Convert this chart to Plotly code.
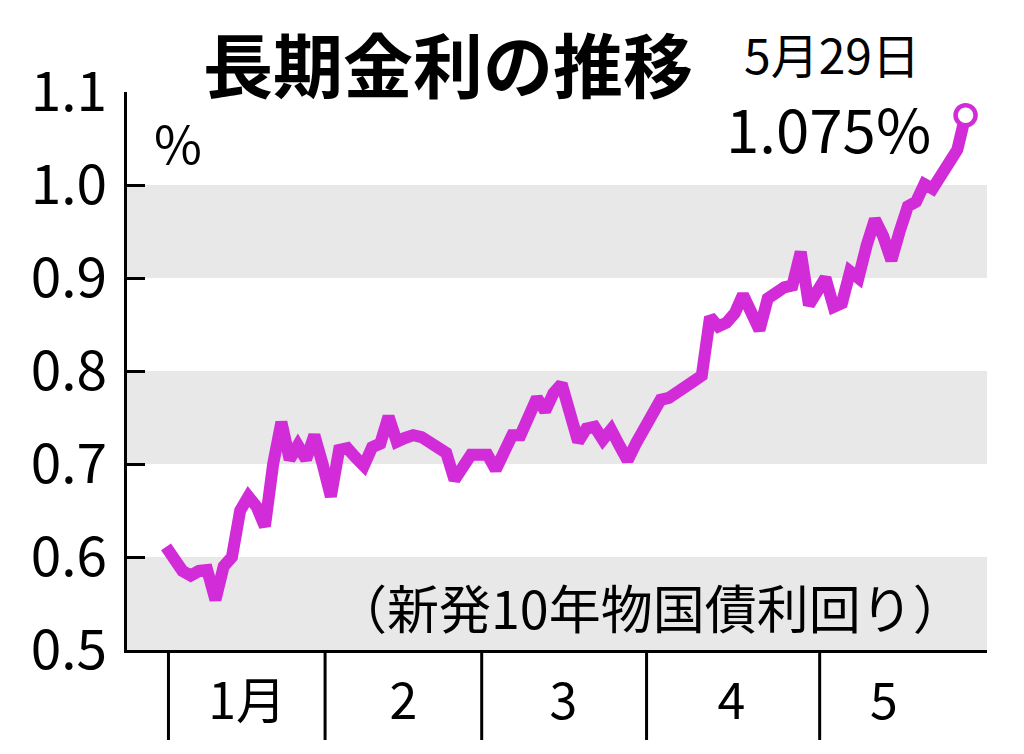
import plotly.graph_objects as go

# ---- data (10-year JGB yield, %, trading days Jan 4 - May 29) ----
jan = [0.611, 0.600, 0.585, 0.580, 0.585, 0.586, 0.554, 0.590, 0.600, 0.650,
       0.665, 0.654, 0.633, 0.700, 0.745, 0.705, 0.720, 0.705, 0.731]
feb = [0.700, 0.665, 0.715, 0.717, 0.707, 0.698, 0.718, 0.722, 0.751, 0.724,
       0.728, 0.731, 0.729, 0.722, 0.718, 0.712, 0.683, 0.697, 0.710]
mar = [0.710, 0.710, 0.694, 0.712, 0.731, 0.731, 0.750, 0.771, 0.757, 0.776,
       0.786, 0.755, 0.724, 0.738, 0.740, 0.726, 0.737, 0.720, 0.704, 0.722]
apr = [0.740, 0.752, 0.769, 0.771, 0.776, 0.782, 0.789, 0.795, 0.858, 0.848,
       0.852, 0.862, 0.882, 0.863, 0.844, 0.878, 0.886, 0.890, 0.892, 0.928, 0.871]
may = [0.885, 0.900, 0.869, 0.873, 0.907, 0.900, 0.935, 0.963, 0.945, 0.919,
       0.950, 0.977, 0.982, 1.001, 0.996, 1.010, 1.025, 1.038, 1.075]

months = [jan, feb, mar, apr, may]
month_labels = ["1月", "2", "3", "4", "5"]
y_ticks = [0.5, 0.6, 0.7, 0.8, 0.9, 1.0, 1.1]
bands = [(0.5, 0.6), (0.7, 0.8), (0.9, 1.0)]

values = [v for m in months for v in m]
x = list(range(len(values)))

month_start = []
acc = 0
for m in months:
    month_start.append(acc)
    acc += len(m)

FONT = "Noto Sans CJK JP"
COLOR = "#D22BD8"

# page offset (browser body margin)
OFF = 8
PL, PR, PT, PB = 127, 987, 92, 650   # target plot area in page pixels

fig = go.Figure()

fig.add_trace(go.Scatter(
    x=x, y=values, mode="lines",
    line=dict(color=COLOR, width=12, shape="linear"),
    hoverinfo="x+y", showlegend=False))

fig.add_trace(go.Scatter(
    x=[x[-1]], y=[values[-1]], mode="markers",
    marker=dict(symbol="circle", size=20, color="white",
                line=dict(color=COLOR, width=4.5)),
    showlegend=False, cliponaxis=False))

shapes = []
for lo, hi in bands:
    shapes.append(dict(type="rect", xref="paper", yref="y", x0=0, x1=1,
                       y0=lo, y1=hi, fillcolor="#E8E8E8", line_width=0,
                       layer="below"))
for s in month_start:
    shapes.append(dict(type="line", xref="x", yref="paper",
                       x0=s + 0.3, x1=s + 0.3, y0=0, y1=-(740 - PB) / (PB - PT),
                       line=dict(color="black", width=3)))
fig.update_layout(shapes=shapes)

label_pos = [9.85, 28.8, 48.2, 68.6, 87.1]

fig.update_xaxes(range=[-4.73, 99.6], showgrid=False, zeroline=False,
                 showline=True, linecolor="black", linewidth=3,
                 tickvals=label_pos, ticktext=month_labels, ticks="",
                 tickfont=dict(family=FONT, size=50, color="black"),
                 ticklabelstandoff=6)
fig.update_yaxes(range=[0.5, 1.1], showgrid=False, zeroline=False,
                 showline=True, linecolor="black", linewidth=3,
                 tickvals=y_ticks, ticktext=[f"{v:.1f}" for v in y_ticks],
                 ticks="inside", ticklen=18, tickwidth=3, tickcolor="black",
                 tickfont=dict(family=FONT, size=55, color="black"),
                 ticklabelstandoff=6)

anns = [
    dict(text="<b>長期金利の推移</b>", x=448, y=62, size=70),
    dict(text="5月29日", x=832, y=53, size=48),
    dict(text="1.075%", x=828, y=126, size=60),
    dict(text="%", x=178, y=142, size=52),
    dict(text="（新発10年物国債利回り）", x=650, y=606, size=52),
]
annotations = []
for a in anns:
    annotations.append(dict(
        text=a["text"], xref="paper", yref="paper",
        x=(a["x"] - PL) / (PR - PL), y=(PB - a["y"]) / (PB - PT),
        xanchor="center", yanchor="middle", showarrow=False,
        font=dict(family=FONT, size=a["size"], color="black")))
fig.update_layout(annotations=annotations)

W, H = 1024 - 2 * OFF, 754 - 2 * OFF
fig.update_layout(
    width=W, height=H,
    margin=dict(l=PL - OFF, r=W + OFF - PR, t=PT - OFF, b=H + OFF - PB),
    paper_bgcolor="white", plot_bgcolor="white",
    font=dict(family=FONT, color="black"),
    showlegend=False)

fig.write_html("out.html")
